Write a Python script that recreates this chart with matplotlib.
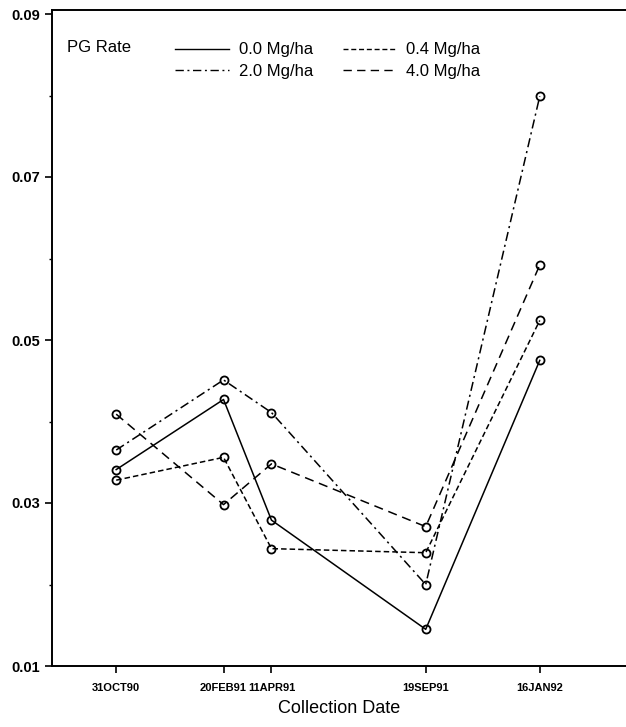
import matplotlib
matplotlib.use('Agg')
import matplotlib.pyplot as plt
from matplotlib.lines import Line2D
import pandas as pd

#####################################################################
# data:
dates = ['31OCT90', '20FEB91', '11APR91', '19SEP91', '16JAN92']
rate_00 = [0.0341, 0.0427, 0.0279, 0.0145, 0.0475]
rate_04 = [0.0328, 0.0356, 0.0244, 0.0239, 0.0524]
rate_20 = [0.0365, 0.0451, 0.0411, 0.0200, 0.0799]
rate_40 = [0.0409, 0.0298, 0.0348, 0.0271, 0.0592]
labels = ['0.0 Mg/ha', '0.4 Mg/ha', '2.0 Mg/ha', '4.0 Mg/ha']
yticks = [0.01, 0.03, 0.05, 0.07, 0.09]

#####################################################################
# styles:
font = ['Liberation Sans', 'DejaVu Sans']
styles = ['-', (0, (3.6, 2.0)), (0, (6.0, 2.6, 1.4, 2.6)), (0, (6.0, 3.8))]

x = pd.to_datetime(dates, format='%d%b%y')

fig = plt.figure(figsize=(6.26, 7.27), dpi=100)
ax = fig.add_axes([52/626, 1-666/727, 1-52/626, (666-10)/727])

series = [rate_00, rate_04, rate_20, rate_40]
for vals, ls in zip(series, styles):
    ax.plot(x, vals, color='black', linestyle=ls, linewidth=1.1,
            marker='o', markersize=5.8, mfc='none', mec='black', mew=1.3)

#####################################################################
# format:
ax.set_ylim(0.01, 0.01 + 0.08*(666-10)/(666-14))
ax.set_xlim(x[0] - pd.Timedelta(days=67), x[-1] + pd.Timedelta(days=90))
ax.set_yticks(yticks)
ax.set_yticklabels([f'{v:.2f}' for v in yticks], fontfamily=font,
                   fontweight='bold', fontsize=10.5)
ax.set_yticks([0.02, 0.04, 0.06, 0.08], minor=True)
ax.set_xticks(x)
ax.set_xticklabels(dates, fontfamily=font, fontweight='bold', fontsize=8)
ax.tick_params(axis='both', which='major', direction='out', length=5, width=1.2)
ax.tick_params(axis='x', pad=7)
ax.tick_params(axis='y', which='minor', length=2, width=1)
ax.spines['right'].set_visible(False)
for s in ['left', 'bottom', 'top']:
    ax.spines[s].set_linewidth(1.4)

ax.set_xlabel('Collection Date', fontfamily=font, fontsize=13, labelpad=5)

# legend:
handles = [Line2D([], [], color='black', linestyle=ls, linewidth=1.0) for ls in styles]
order = [0, 2, 1, 3]
ax.legend([handles[i] for i in order], [labels[i] for i in order],
          ncol=2, frameon=False, loc='upper left',
          bbox_to_anchor=(167/626, 1-34/727), bbox_transform=fig.transFigure,
          prop={'family': font, 'size': 12}, borderpad=0,
          handlelength=3.2, handletextpad=0.6, columnspacing=1.8,
          labelspacing=0.4)
fig.text(67/626, 1-48/727, 'PG Rate', fontfamily=font, fontsize=12,
         va='center', ha='left')

fig.savefig('out.png', dpi=100)
